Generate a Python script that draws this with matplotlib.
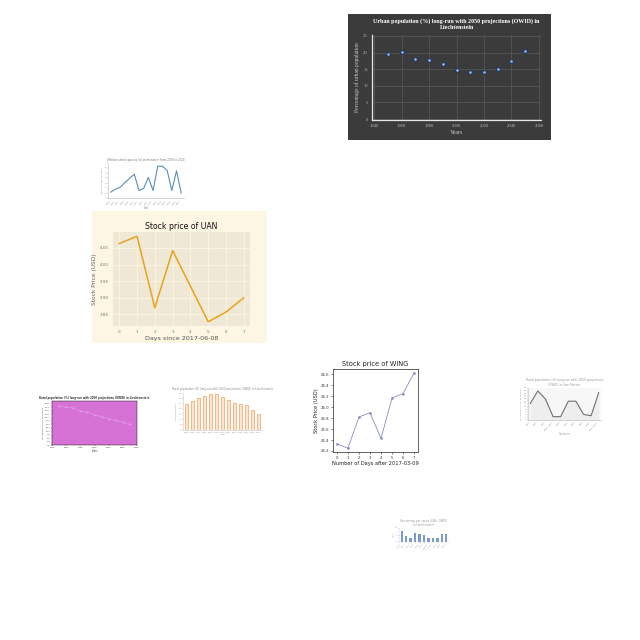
import matplotlib
matplotlib.use('Agg')
import matplotlib.pyplot as plt
from matplotlib.patches import Rectangle

# ---------------- data ----------------
urban_years = [1950, 1960, 1970, 1980, 1990, 2000, 2010, 2020, 2030, 2040, 2050]
urban_pct = [19.7, 20.1, 18.1, 17.9, 16.6, 14.9, 14.1, 14.1, 15.1, 17.6, 20.5]

wind_years = [str(y) for y in range(2005, 2021)]
wind_vals = [1.18, 1.78, 2.16, 3.08, 3.93, 4.77, 1.50, 1.90, 4.12, 1.50, 6.35, 6.35, 5.56, 1.50, 5.43, 0.98]

uan_days = [0, 1, 2, 3, 4, 5, 6, 7]
uan_price = [4.063, 4.085, 3.870, 4.042, 3.935, 3.828, 3.857, 3.900]

wing_days = [0, 1, 2, 3, 4, 5, 6, 7]
wing_price = [25.33, 25.25, 25.82, 25.90, 25.43, 26.17, 26.25, 26.63]

rural_years = [1950, 1960, 1970, 1980, 1990, 2000, 2010, 2020, 2030, 2040, 2050]
rural_pct = [28.6, 27.6, 26.9, 24.7, 23.8, 21.8, 20.6, 18.9, 17.9, 16.5, 15.0]

bar_years = [str(y) for y in range(1950, 2080, 10)]
bar_vals = [24.5, 27.0, 29.8, 32.2, 33.6, 33.6, 30.8, 28.0, 25.9, 24.5, 23.5, 18.9, 15.0]

line_years = ['1950', '1960', '1970', '1980-1985', '1990', '2000', '2010', '2020', '2030', '2040-2050']
line_vals = [12.4, 21.8, 15.6, 2.5, 2.5, 14.1, 14.1, 4.2, 3.2, 20.5]

blue_cats = ['2010', '2011', '2012', '2013', '2014', '2015', '2016', '2017', '2018', '2019', '2020']
blue_vals = [8.0, 4.3, 3.0, 6.3, 5.8, 5.0, 3.0, 3.0, 3.0, 5.8, 5.8]

# ---------------- helpers ----------------
W = H = 640

def box(x0, y0, x1, y1):
    return [x0 / W, 1 - y1 / H, (x1 - x0) / W, (y1 - y0) / H]

fig = plt.figure(figsize=(6.4, 6.4), dpi=100)
fig.patch.set_facecolor('white')

def panel(x0, y0, x1, y1, color):
    fig.patches.append(Rectangle((x0 / W, 1 - y1 / H), (x1 - x0) / W, (y1 - y0) / H,
                                 transform=fig.transFigure, facecolor=color,
                                 edgecolor='none', zorder=-5))

# ---------------- A: urban population (dark) ----------------
panel(348, 14, 551, 140, '#3b3b3b')
axA = fig.add_axes(box(372, 35, 541, 120))
axA.set_facecolor('#3b3b3b')
axA.scatter(urban_years, urban_pct, s=8, color='#8fb8f0', edgecolors='#24385e', linewidths=0.9, zorder=3)
axA.set_xlim(1938.5, 2061.5)
axA.set_ylim(-0.3, 25.3)
axA.set_xticks(range(1940, 2061, 20))
axA.set_yticks(range(0, 26, 5))
axA.grid(True, color='#5a5a5a', lw=0.5)
axA.set_axisbelow(True)
for s in ['top', 'right']:
    axA.spines[s].set_visible(False)
for s in ['left', 'bottom']:
    axA.spines[s].set_color('#e6e6e6')
    axA.spines[s].set_linewidth(0.9)
axA.tick_params(length=0, labelsize=3.3, colors='#bbbbbb', pad=3)
for lab in axA.get_xticklabels() + axA.get_yticklabels():
    lab.set_family('Liberation Serif')
axA.set_title('Urban population (%) long-run with 2050 projections (OWID) in\nLiechtenstein',
              fontsize=4.3, color='white', family='Liberation Serif', fontweight='bold',
              pad=4, linespacing=1.45)
axA.set_xlabel('Years', fontsize=4.2, color='#cccccc', family='Liberation Serif', labelpad=1.5)
axA.set_ylabel('Percentage of urban population', fontsize=4.0, color='#cccccc',
               family='Liberation Serif', labelpad=2)

# ---------------- B: small steel-blue line ----------------
axB = fig.add_axes(box(108, 163, 184, 198))
axB.plot(range(len(wind_vals)), wind_vals, color='#5a8db8', lw=0.8)
axB.set_xlim(-0.6, len(wind_vals) - 0.4)
axB.set_ylim(0, 7)
axB.set_xticks(range(len(wind_years)))
axB.set_xticklabels(wind_years, rotation=45, ha='right')
axB.set_yticks(range(0, 8))
axB.tick_params(length=1, width=0.3, labelsize=1.6, colors='#888888', pad=0.5)
for s in ['top', 'right']:
    axB.spines[s].set_visible(False)
for s in ['left', 'bottom']:
    axB.spines[s].set_color('#bbbbbb')
    axB.spines[s].set_linewidth(0.4)
axB.set_title('Offshore wind capacity in Liechtenstein from 2005 to 2020', fontsize=1.9, color='#777777', pad=1.5)
axB.set_xlabel('Year', fontsize=1.8, color='#888888', labelpad=1)
axB.set_ylabel('Installed capacity (MW)', fontsize=1.6, color='#888888', labelpad=1)

# ---------------- C: Stock price of UAN ----------------
panel(92, 211, 267, 343, '#FDF6E3')
axC = fig.add_axes(box(113, 232, 250, 326))
axC.set_facecolor('#EEE8D5')
axC.plot(uan_days, uan_price, color='#E8A31E', lw=1.1)
axC.margins(x=0.05, y=0.05)
axC.set_xticks(uan_days)
axC.set_yticks([3.85, 3.90, 3.95, 4.00, 4.05])
axC.yaxis.set_major_formatter(matplotlib.ticker.FormatStrFormatter('%.2f'))
axC.grid(True, color='#FDF6E3', lw=0.6)
axC.set_axisbelow(True)
for s in axC.spines.values():
    s.set_visible(False)
axC.tick_params(length=0, labelsize=3.0, colors='#777777', pad=3)
axC.set_title('Stock price of UAN', fontsize=5.6, color='#111111', pad=2.5)
axC.set_xlabel('Days since 2017-06-08', fontsize=4.6, color='#555555', labelpad=1.5)
axC.set_ylabel('Stock Price (USD)', fontsize=4.2, color='#666666', labelpad=2)

# ---------------- D: pink panel ----------------
axD = fig.add_axes(box(52, 401, 137, 445))
axD.set_facecolor('#d672d6')
axD.plot(rural_years, rural_pct, color='#e8a8e8', lw=0.4, marker='o', ms=0.5, alpha=0.8)
axD.set_xlim(1940, 2060)
axD.set_ylim(0, 32)
axD.set_xticks(range(1940, 2061, 20))
axD.set_yticks([i * 2.5 for i in range(13)])
axD.tick_params(length=0.8, width=0.3, labelsize=1.6, colors='#444444', pad=0.5)
for s in axD.spines.values():
    s.set_linewidth(0.3)
axD.set_title('Rural population (%) long-run with 2050 projections (OWID) in Liechtenstein',
              fontsize=1.8, color='#333333', fontweight='bold', pad=1.5)
axD.set_xlabel('Years', fontsize=1.8, color='#444444', labelpad=1)
axD.set_ylabel('Percentage of rural population', fontsize=1.5, color='#444444', labelpad=1)

# ---------------- E: orange bars ----------------
axE = fig.add_axes(box(183, 393, 262, 430))
axE.bar(range(len(bar_vals)), bar_vals, width=0.6, color='#fde4cf', edgecolor='#f2a15c', lw=0.5)
axE.set_xlim(-0.6, len(bar_vals) - 0.4)
axE.set_ylim(0, 35)
axE.set_xticks(range(len(bar_years)))
axE.set_xticklabels(bar_years)
axE.set_yticks(range(0, 36, 5))
axE.tick_params(length=0.8, width=0.3, labelsize=1.5, colors='#999999', pad=0.5)
for s in ['top', 'right']:
    axE.spines[s].set_visible(False)
for s in ['left', 'bottom']:
    axE.spines[s].set_color('#cccccc')
    axE.spines[s].set_linewidth(0.4)
axE.set_title('Rural population (%) long-run with 2050 projections (OWID) in Liechtenstein',
              fontsize=1.9, color='#888888', pad=2)
axE.set_xlabel('Year', fontsize=1.7, color='#999999', labelpad=1)
axE.set_ylabel('Rural population', fontsize=1.6, color='#999999', labelpad=1)

# ---------------- F: Stock price of WING ----------------
axF = fig.add_axes(box(333, 369, 418, 452))
axF.plot(wing_days, wing_price, color='#8790c8', lw=0.6, marker='o', ms=0.9)
axF.margins(x=0.05, y=0.05)
axF.set_xticks(wing_days)
axF.set_yticks([25.2, 25.4, 25.6, 25.8, 26.0, 26.2, 26.4, 26.6])
axF.yaxis.set_major_formatter(matplotlib.ticker.FormatStrFormatter('%.1f'))
for s in axF.spines.values():
    s.set_linewidth(0.5)
    s.set_color('#222222')
axF.tick_params(length=1.2, width=0.4, labelsize=2.8, colors='#333333', pad=1.5)
axF.set_title('Stock price of WING', fontsize=4.8, color='#222222', pad=2)
axF.set_xlabel('Number of Days after 2017-03-09', fontsize=3.7, color='#222222', labelpad=1.2)
axF.set_ylabel('Stock Price (USD)', fontsize=3.7, color='#222222', labelpad=1.5)

# ---------------- G: gray line chart ----------------
axG = fig.add_axes(box(528, 388, 601, 420))
axG.set_facecolor('#f7f7f7')
xs = list(range(len(line_vals)))
axG.fill_between(xs, line_vals, 0, color='#eeeeee', lw=0)
axG.plot(xs, line_vals, color='#707070', lw=0.8)
axG.set_xlim(-0.3, len(line_vals) - 0.7)
axG.set_ylim(0, 24)
axG.set_xticks(xs)
axG.set_xticklabels(line_years, rotation=45, ha='right')
axG.set_yticks(range(0, 25, 2))
axG.tick_params(length=0.8, width=0.3, labelsize=1.6, colors='#888888', pad=0.5)
for s in ['top', 'right']:
    axG.spines[s].set_visible(False)
for s in ['left', 'bottom']:
    axG.spines[s].set_color('#bbbbbb')
    axG.spines[s].set_linewidth(0.4)
axG.set_title('Rural population (%) long-run with 2050 projections\n(OWID) in San Marino',
              fontsize=2.2, color='#999999', pad=1.5)
axG.set_xlabel('Countries', fontsize=1.8, color='#999999', labelpad=1)
axG.set_ylabel('Percentage of rural population', fontsize=1.5, color='#999999', labelpad=1)

# ---------------- H: small blue bars ----------------
axH = fig.add_axes(box(399, 528, 449, 542))
axH.bar(range(len(blue_vals)), blue_vals, width=0.5, color='#7b98d0')
axH.set_xlim(-0.6, len(blue_vals) - 0.4)
axH.set_ylim(0, 10)
axH.set_xticks(range(len(blue_cats)))
axH.set_xticklabels(blue_cats, rotation=45, ha='right')
axH.set_yticks([0, 5, 10])
axH.tick_params(length=0.6, width=0.3, labelsize=1.5, colors='#999999', pad=0.4)
for s in ['top', 'right']:
    axH.spines[s].set_visible(False)
for s in ['left', 'bottom']:
    axH.spines[s].set_color('#cccccc')
    axH.spines[s].set_linewidth(0.3)
axH.set_title('Gas energy per capita (kWh, OWID)\nin Liechtenstein', fontsize=1.9, color='#999999', pad=1.2)
axH.set_xlabel('Year', fontsize=1.6, color='#999999', labelpad=1)
axH.set_ylabel('kWh', fontsize=1.5, color='#999999', labelpad=1)

fig.savefig('out.png', dpi=100)
